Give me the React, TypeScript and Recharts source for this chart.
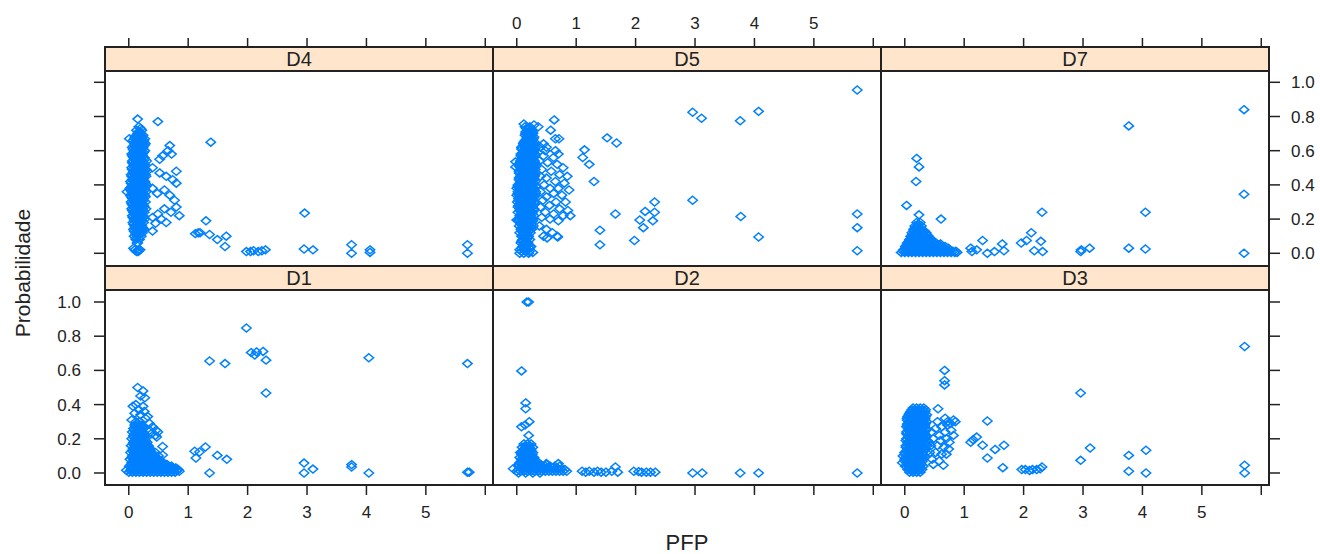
import React from 'react';
import { ScatterChart, Scatter, XAxis, YAxis } from 'recharts';

// Dense clusters are read row by row: [y, xs at that height]
type Row = [number, number[]];
type Pt = [number, number];

const xTicks = [0, 1, 2, 3, 4, 5, 6];
const yTicks = [0, 0.2, 0.4, 0.6, 0.8, 1.0];

const d4Core: Row[] = [
  [0.74, [0.17]], [0.72, [0.13, 0.22]], [0.70, [0.15, 0.2]], [0.68, [0.1, 0.16, 0.22]],
  [0.66, [0.07, 0.13, 0.19, 0.25]], [0.64, [0.1, 0.16, 0.22, 0.28]], [0.62, [0.06, 0.12, 0.18, 0.24]],
  [0.60, [0.09, 0.15, 0.21, 0.27]], [0.58, [0.05, 0.11, 0.17, 0.23]], [0.56, [0.08, 0.14, 0.2, 0.26]],
  [0.54, [0.06, 0.12, 0.18, 0.24, 0.3]], [0.52, [0.09, 0.15, 0.21, 0.27]], [0.50, [0.05, 0.11, 0.17, 0.23]],
  [0.48, [0.08, 0.14, 0.2, 0.26, 0.31]], [0.46, [0.04, 0.1, 0.16, 0.22, 0.28]], [0.44, [0.07, 0.13, 0.19, 0.25]],
  [0.42, [0.03, 0.09, 0.15, 0.21, 0.27]], [0.40, [0.06, 0.12, 0.18, 0.24, 0.3]], [0.38, [0.02, 0.08, 0.14, 0.2, 0.26]],
  [0.36, [0.05, 0.11, 0.17, 0.23, 0.29]], [0.34, [0.03, 0.09, 0.15, 0.21, 0.27]], [0.32, [0.06, 0.12, 0.18, 0.24]],
  [0.30, [0.04, 0.1, 0.16, 0.22, 0.28]], [0.28, [0.07, 0.13, 0.19, 0.25]], [0.26, [0.05, 0.11, 0.17, 0.23, 0.29]],
  [0.24, [0.08, 0.14, 0.2, 0.26]], [0.22, [0.06, 0.12, 0.18, 0.24]], [0.20, [0.09, 0.15, 0.21, 0.27]],
  [0.18, [0.07, 0.13, 0.19, 0.25]], [0.16, [0.1, 0.16, 0.22]], [0.14, [0.08, 0.14, 0.2, 0.26]],
  [0.12, [0.11, 0.17, 0.23]], [0.10, [0.09, 0.15, 0.21]], [0.08, [0.12, 0.18]], [0.06, [0.14]],
  [0.02, [0.1, 0.16, 0.19]], [0.01, [0.13]],
];
const d4Fill: Row[] = [
  [0.71, [0.16, 0.19]], [0.69, [0.13, 0.19, 0.24]], [0.67, [0.1, 0.16, 0.22]], [0.65, [0.1, 0.16, 0.22, 0.26]],
  [0.63, [0.09, 0.15, 0.21, 0.26]], [0.61, [0.07, 0.12, 0.18, 0.24]], [0.59, [0.08, 0.14, 0.2, 0.25]],
  [0.57, [0.06, 0.11, 0.17, 0.23]], [0.55, [0.09, 0.15, 0.21, 0.27]], [0.53, [0.06, 0.12, 0.18, 0.24]],
  [0.51, [0.08, 0.14, 0.2, 0.26]], [0.49, [0.06, 0.12, 0.18, 0.24, 0.29]], [0.47, [0.07, 0.13, 0.19, 0.25]],
  [0.45, [0.05, 0.11, 0.17, 0.23, 0.29]], [0.43, [0.06, 0.12, 0.18, 0.24]], [0.41, [0.04, 0.1, 0.16, 0.22, 0.28]],
  [0.39, [0.05, 0.11, 0.17, 0.23, 0.29]], [0.37, [0.03, 0.09, 0.15, 0.21, 0.27]], [0.35, [0.06, 0.12, 0.18, 0.24]],
  [0.33, [0.04, 0.1, 0.16, 0.22, 0.28]], [0.31, [0.07, 0.13, 0.19, 0.25]], [0.29, [0.05, 0.11, 0.17, 0.23]],
  [0.27, [0.08, 0.14, 0.2, 0.26]], [0.25, [0.06, 0.12, 0.18, 0.24]], [0.23, [0.09, 0.15, 0.21]],
  [0.21, [0.07, 0.13, 0.19, 0.25]], [0.19, [0.1, 0.16, 0.22]], [0.17, [0.08, 0.14, 0.2]],
  [0.15, [0.11, 0.17, 0.23]], [0.13, [0.09, 0.15, 0.2]], [0.11, [0.12, 0.18]],
];
const d4Loose: Pt[] = [
  [0.15, 0.785], [0.49, 0.77], [0.2, 0.73], [0.18, 0.71], [0.01, 0.67], [0.27, 0.67], [-0.03, 0.36],
  [0.69, 0.63], [0.66, 0.6], [0.57, 0.57], [0.52, 0.55], [0.72, 0.58], [0.8, 0.48], [0.4, 0.5],
  [0.52, 0.47], [0.63, 0.45], [0.74, 0.43], [0.8, 0.41], [0.4, 0.38], [0.48, 0.35], [0.6, 0.37],
  [0.69, 0.34], [0.77, 0.31], [0.8, 0.27], [0.71, 0.24], [0.6, 0.26], [0.49, 0.23], [0.4, 0.21],
  [0.85, 0.22], [0.63, 0.18], [0.55, 0.2], [0.45, 0.175], [0.4, 0.13], [0.23, 0.14], [0.18, 0.11],
  [0.12, 0.09], [0.15, 0.06], [0.08, 0.03], [0.16, 0.01],
  [1.38, 0.65], [1.3, 0.19], [1.12, 0.115], [1.17, 0.12], [1.2, 0.12], [1.36, 0.11], [1.49, 0.08],
  [1.64, 0.1], [1.62, 0.04], [1.98, 0.01], [2.05, 0.01], [2.1, 0.015], [2.18, 0.01], [2.24, 0.015],
  [2.3, 0.02], [2.96, 0.235], [2.95, 0.025], [3.1, 0.02], [3.75, 0.05], [3.75, 0.0], [4.06, 0.02],
  [4.06, 0.005], [5.7, 0.05], [5.7, 0.0],
];

const d5Core: Row[] = [
  [0.74, [0.14, 0.22]], [0.72, [0.18, 0.25]], [0.70, [0.15, 0.21, 0.27]], [0.68, [0.17, 0.23, 0.29]],
  [0.66, [0.14, 0.2, 0.26]], [0.64, [0.11, 0.17, 0.23, 0.29]], [0.62, [0.08, 0.14, 0.2, 0.26, 0.32]],
  [0.60, [0.11, 0.17, 0.23, 0.29]], [0.58, [0.07, 0.13, 0.19, 0.25, 0.31]], [0.56, [0.1, 0.16, 0.22, 0.28]],
  [0.54, [0.06, 0.12, 0.18, 0.24, 0.3]], [0.52, [0.03, 0.09, 0.15, 0.21, 0.27, 0.33]],
  [0.50, [0.06, 0.12, 0.18, 0.24, 0.3]], [0.48, [0.04, 0.1, 0.16, 0.22, 0.28]],
  [0.46, [0.07, 0.13, 0.19, 0.25, 0.31]], [0.44, [0.04, 0.1, 0.16, 0.22, 0.28]],
  [0.42, [0.07, 0.13, 0.19, 0.25, 0.31]], [0.40, [0.02, 0.08, 0.14, 0.2, 0.26]],
  [0.38, [0.0, 0.05, 0.11, 0.17, 0.23, 0.29]], [0.36, [0.02, 0.08, 0.14, 0.2, 0.26, 0.32]],
  [0.34, [0.0, 0.05, 0.11, 0.17, 0.23, 0.29]], [0.32, [0.03, 0.09, 0.15, 0.21, 0.27]],
  [0.30, [0.01, 0.06, 0.12, 0.18, 0.24, 0.3]], [0.28, [0.03, 0.09, 0.15, 0.21, 0.27]],
  [0.26, [0.05, 0.11, 0.17, 0.23, 0.29]], [0.24, [0.02, 0.08, 0.14, 0.2, 0.26]],
  [0.22, [0.05, 0.11, 0.17, 0.23, 0.29]], [0.20, [0.03, 0.09, 0.15, 0.21, 0.27]],
  [0.18, [0.06, 0.12, 0.18, 0.24]], [0.16, [0.04, 0.1, 0.16, 0.22, 0.28]], [0.14, [0.07, 0.13, 0.19, 0.25]],
  [0.12, [0.05, 0.11, 0.17, 0.23]], [0.10, [0.08, 0.14, 0.2]], [0.08, [0.1, 0.16, 0.22]],
  [0.06, [0.07, 0.13, 0.19]], [0.04, [0.1, 0.16, 0.24]], [0.02, [0.05, 0.12, 0.18]], [0.01, [0.08, 0.15, 0.21]],
];
const d5Fill: Row[] = [
  [0.73, [0.16, 0.22]], [0.71, [0.15, 0.21, 0.27]], [0.69, [0.14, 0.2, 0.26]], [0.67, [0.17, 0.23, 0.28]],
  [0.65, [0.12, 0.18, 0.24, 0.3]], [0.63, [0.11, 0.17, 0.23, 0.29]], [0.61, [0.08, 0.14, 0.2, 0.26, 0.31]],
  [0.59, [0.1, 0.16, 0.22, 0.28]], [0.57, [0.07, 0.13, 0.19, 0.25, 0.31]], [0.55, [0.09, 0.15, 0.21, 0.27]],
  [0.53, [0.06, 0.12, 0.18, 0.24, 0.3]], [0.51, [0.04, 0.1, 0.16, 0.22, 0.28]],
  [0.49, [0.07, 0.13, 0.19, 0.25, 0.31]], [0.47, [0.04, 0.1, 0.16, 0.22, 0.28]],
  [0.45, [0.06, 0.12, 0.18, 0.24, 0.3]], [0.43, [0.04, 0.1, 0.16, 0.22, 0.28]],
  [0.41, [0.05, 0.11, 0.17, 0.23, 0.29]], [0.39, [0.02, 0.08, 0.14, 0.2, 0.26, 0.32]],
  [0.37, [0.05, 0.11, 0.17, 0.23, 0.29]], [0.35, [0.02, 0.08, 0.14, 0.2, 0.26, 0.32]],
  [0.33, [0.06, 0.12, 0.18, 0.24, 0.3]], [0.31, [0.03, 0.09, 0.15, 0.21, 0.27]],
  [0.29, [0.06, 0.12, 0.18, 0.24, 0.3]], [0.27, [0.02, 0.08, 0.14, 0.2, 0.26]],
  [0.25, [0.05, 0.11, 0.17, 0.23, 0.29]], [0.23, [0.08, 0.14, 0.2, 0.26]], [0.21, [0.06, 0.12, 0.18, 0.24]],
  [0.19, [0.03, 0.09, 0.15, 0.21, 0.27]], [0.17, [0.07, 0.13, 0.19, 0.25]], [0.15, [0.1, 0.16, 0.22]],
  [0.13, [0.08, 0.14, 0.2]], [0.11, [0.11, 0.17]], [0.09, [0.13, 0.19]], [0.07, [0.1, 0.16]],
  [0.05, [0.13, 0.19]], [0.03, [0.08, 0.15, 0.21]],
];
const d5Loose: Pt[] = [
  [0.12, 0.756], [0.29, 0.75], [0.36, 0.74], [0.63, 0.78], [0.57, 0.72], [0.65, 0.67], [0.71, 0.67],
  [0.45, 0.64], [0.5, 0.62], [0.65, 0.6], [0.7, 0.58], [-0.02, 0.535], [-0.02, 0.505], [0.0, 0.195],
  [0.4, 0.62], [0.48, 0.6], [0.45, 0.57], [0.62, 0.56], [0.38, 0.54], [0.52, 0.53], [0.68, 0.52],
  [0.78, 0.5], [0.42, 0.49], [0.58, 0.48], [0.72, 0.46], [0.85, 0.45], [0.4, 0.45], [0.5, 0.44],
  [0.65, 0.42], [0.8, 0.41], [0.46, 0.4], [0.56, 0.38], [0.7, 0.38], [0.88, 0.37], [0.4, 0.36],
  [0.62, 0.35], [0.76, 0.34], [0.5, 0.33], [0.44, 0.31], [0.66, 0.3], [0.82, 0.3], [0.55, 0.28],
  [0.4, 0.27], [0.72, 0.26], [0.86, 0.25], [0.48, 0.24], [0.62, 0.23], [0.78, 0.22], [0.42, 0.21],
  [0.56, 0.2], [0.7, 0.19], [0.9, 0.22], [0.38, 0.16], [0.5, 0.14], [0.6, 0.12], [0.45, 0.1],
  [0.51, 0.09], [0.68, 0.1], [0.69, 0.095], [0.08, 0.07], [0.22, 0.04], [0.05, 0.0], [0.12, 0.0],
  [0.2, 0.0], [0.27, 0.005],
  [5.73, 0.955], [2.96, 0.825], [3.11, 0.79], [3.76, 0.775], [4.07, 0.83], [1.52, 0.675], [1.68, 0.645],
  [1.14, 0.605], [1.11, 0.56], [1.22, 0.52], [1.3, 0.42], [2.96, 0.31], [2.32, 0.3], [2.16, 0.245],
  [2.32, 0.24], [1.66, 0.23], [2.07, 0.195], [2.29, 0.19], [2.13, 0.15], [1.4, 0.135], [1.4, 0.05],
  [1.98, 0.075], [3.77, 0.215], [4.07, 0.095], [5.73, 0.23], [5.73, 0.15], [5.73, 0.015],
];

const d7Core: Row[] = [
  [0.18, [0.2, 0.26]], [0.16, [0.17, 0.23, 0.28]], [0.14, [0.15, 0.21, 0.27]],
  [0.12, [0.12, 0.18, 0.24, 0.3, 0.36]], [0.10, [0.1, 0.16, 0.22, 0.28, 0.34, 0.4]],
  [0.08, [0.08, 0.14, 0.2, 0.26, 0.32, 0.38, 0.44]],
  [0.06, [0.04, 0.1, 0.16, 0.22, 0.28, 0.34, 0.4, 0.46, 0.52]],
  [0.04, [0.01, 0.07, 0.13, 0.19, 0.25, 0.31, 0.37, 0.43, 0.49, 0.55, 0.62, 0.68]],
  [0.02, [-0.02, 0.04, 0.1, 0.16, 0.22, 0.28, 0.34, 0.4, 0.46, 0.52, 0.58, 0.64, 0.7, 0.76]],
  [0.005, [-0.06, 0.0, 0.06, 0.12, 0.18, 0.24, 0.3, 0.36, 0.42, 0.48, 0.54, 0.6, 0.66, 0.72, 0.78, 0.84, 0.88]],
];
const d7Fill: Row[] = [
  [0.17, [0.23]], [0.15, [0.18, 0.24]], [0.13, [0.15, 0.21, 0.27, 0.33]],
  [0.11, [0.13, 0.19, 0.25, 0.31, 0.37]], [0.09, [0.11, 0.17, 0.23, 0.29, 0.35, 0.41]],
  [0.07, [0.07, 0.13, 0.19, 0.25, 0.31, 0.37, 0.43, 0.49]],
  [0.05, [0.04, 0.1, 0.16, 0.22, 0.28, 0.34, 0.4, 0.46, 0.52, 0.58]],
  [0.03, [0.01, 0.07, 0.13, 0.19, 0.25, 0.31, 0.37, 0.43, 0.49, 0.55, 0.61, 0.67, 0.73]],
  [0.012, [-0.03, 0.03, 0.09, 0.15, 0.21, 0.27, 0.33, 0.39, 0.45, 0.51, 0.57, 0.63, 0.69, 0.75, 0.81, 0.86]],
];
const d7Loose: Pt[] = [
  [0.2, 0.555], [0.24, 0.505], [0.19, 0.42], [0.03, 0.28], [0.24, 0.225], [0.61, 0.2], [0.6, 0.055],
  [5.71, 0.84], [3.77, 0.745], [5.71, 0.345], [5.71, 0.0], [4.05, 0.24], [2.31, 0.24], [3.77, 0.03],
  [4.05, 0.025], [2.96, 0.01], [2.97, 0.02], [3.11, 0.03], [2.13, 0.12], [2.05, 0.075], [1.96, 0.06],
  [2.29, 0.07], [2.18, 0.015], [2.32, 0.01], [1.31, 0.075], [1.11, 0.03], [1.21, 0.02], [1.13, 0.01],
  [1.39, 0.0], [1.51, 0.01], [1.64, 0.055], [1.67, 0.015],
];

const d1Core: Row[] = [
  [0.30, [0.12, 0.18]], [0.28, [0.1, 0.16, 0.22]], [0.26, [0.08, 0.14, 0.2, 0.25]],
  [0.24, [0.06, 0.12, 0.18, 0.24]], [0.22, [0.08, 0.14, 0.2, 0.26]], [0.20, [0.05, 0.11, 0.17, 0.23, 0.28]],
  [0.18, [0.08, 0.14, 0.2, 0.26, 0.31]], [0.16, [0.04, 0.1, 0.16, 0.22, 0.28, 0.33]],
  [0.14, [0.07, 0.13, 0.19, 0.25, 0.31, 0.36]], [0.12, [0.03, 0.09, 0.15, 0.21, 0.27, 0.33, 0.39]],
  [0.10, [0.06, 0.12, 0.18, 0.24, 0.3, 0.36, 0.42]],
  [0.08, [0.02, 0.08, 0.14, 0.2, 0.26, 0.32, 0.38, 0.44, 0.5]],
  [0.06, [0.05, 0.11, 0.17, 0.23, 0.29, 0.35, 0.41, 0.47, 0.53, 0.58]],
  [0.04, [0.01, 0.07, 0.13, 0.19, 0.25, 0.31, 0.37, 0.43, 0.49, 0.55, 0.61, 0.67, 0.72]],
  [0.02, [0.04, 0.1, 0.16, 0.22, 0.28, 0.34, 0.4, 0.46, 0.52, 0.58, 0.64, 0.7, 0.76, 0.82]],
  [0.005, [0.0, 0.06, 0.12, 0.18, 0.24, 0.3, 0.36, 0.42, 0.48, 0.54, 0.6, 0.66, 0.72, 0.78]],
];
const d1Fill: Row[] = [
  [0.29, [0.15]], [0.27, [0.11, 0.17, 0.23]], [0.25, [0.09, 0.15, 0.21]], [0.23, [0.1, 0.16, 0.22]],
  [0.21, [0.08, 0.14, 0.2, 0.25]], [0.19, [0.1, 0.16, 0.22, 0.28]], [0.17, [0.07, 0.13, 0.19, 0.25, 0.3]],
  [0.15, [0.1, 0.16, 0.22, 0.28, 0.34]], [0.13, [0.06, 0.12, 0.18, 0.24, 0.3, 0.36]],
  [0.11, [0.09, 0.15, 0.21, 0.27, 0.33, 0.39]], [0.09, [0.05, 0.11, 0.17, 0.23, 0.29, 0.35, 0.41, 0.47]],
  [0.07, [0.08, 0.14, 0.2, 0.26, 0.32, 0.38, 0.44, 0.5, 0.55]],
  [0.05, [0.04, 0.1, 0.16, 0.22, 0.28, 0.34, 0.4, 0.46, 0.52, 0.58, 0.64]],
  [0.03, [0.07, 0.13, 0.19, 0.25, 0.31, 0.37, 0.43, 0.49, 0.55, 0.61, 0.67, 0.73, 0.79]],
  [0.013, [0.03, 0.09, 0.15, 0.21, 0.27, 0.33, 0.39, 0.45, 0.51, 0.57, 0.63, 0.69, 0.75, 0.81]],
];
const d1Loose: Pt[] = [
  [0.15, 0.5], [0.24, 0.48], [0.27, 0.44], [0.2, 0.45], [0.07, 0.39], [0.12, 0.4], [0.17, 0.37],
  [0.24, 0.39], [0.26, 0.36], [0.1, 0.35], [0.2, 0.34], [0.28, 0.32], [0.32, 0.33], [0.05, 0.31],
  [0.35, 0.29], [0.46, 0.25], [0.49, 0.24], [0.45, 0.22], [0.47, 0.21], [0.4, 0.27], [0.38, 0.23],
  [0.35, 0.25], [0.57, 0.155], [0.57, 0.105], [0.45, 0.12], [0.5, 0.1], [-0.04, 0.016], [0.85, 0.01],
  [0.83, 0.02],
  [1.98, 0.848], [2.06, 0.704], [2.15, 0.708], [2.26, 0.711], [2.12, 0.69], [2.31, 0.66], [2.31, 0.468],
  [1.36, 0.655], [1.62, 0.64], [4.04, 0.674], [5.7, 0.64], [1.11, 0.127], [1.19, 0.123], [1.29, 0.152],
  [1.13, 0.088], [1.49, 0.103], [1.65, 0.08], [1.36, 0.0], [2.95, 0.058], [2.95, 0.0], [3.1, 0.023],
  [3.75, 0.049], [3.75, 0.035], [4.04, 0.0], [5.7, 0.005], [5.73, 0.005],
];

const d2Core: Row[] = [
  [0.17, [0.12, 0.18, 0.24]], [0.15, [0.09, 0.15, 0.21, 0.27]], [0.13, [0.12, 0.18, 0.24]],
  [0.11, [0.08, 0.14, 0.2, 0.26]], [0.09, [0.05, 0.11, 0.17, 0.23, 0.29]],
  [0.07, [0.08, 0.14, 0.2, 0.26, 0.32]], [0.05, [0.03, 0.09, 0.15, 0.21, 0.27, 0.33, 0.4, 0.5]],
  [0.03, [0.06, 0.12, 0.18, 0.24, 0.3, 0.36, 0.44, 0.52, 0.6, 0.68]],
  [0.01, [0.0, 0.06, 0.12, 0.18, 0.24, 0.3, 0.36, 0.42, 0.48, 0.54, 0.6, 0.66, 0.72, 0.78, 0.84]],
  [0.0, [0.03, 0.15, 0.27, 0.39]],
];
const d2Fill: Row[] = [
  [0.16, [0.15, 0.21]], [0.14, [0.12, 0.18, 0.24]], [0.12, [0.09, 0.15, 0.21, 0.27]],
  [0.10, [0.11, 0.17, 0.23]], [0.08, [0.08, 0.14, 0.2, 0.26, 0.3]], [0.06, [0.05, 0.11, 0.17, 0.23, 0.29, 0.36]],
  [0.04, [0.03, 0.09, 0.15, 0.21, 0.27, 0.33, 0.4, 0.48, 0.56, 0.64]],
  [0.02, [0.03, 0.09, 0.15, 0.21, 0.27, 0.33, 0.39, 0.45, 0.51, 0.57, 0.63, 0.69, 0.75, 0.81]],
];
const d2Loose: Pt[] = [
  [0.17, 1.0], [0.2, 1.0], [0.08, 0.597], [0.15, 0.41], [0.15, 0.376], [0.08, 0.27], [0.14, 0.28],
  [0.21, 0.3], [0.2, 0.22], [0.06, 0.12], [0.5, 0.055], [0.7, 0.055], [0.72, 0.04], [-0.06, 0.025],
  [1.1, 0.01], [1.16, 0.005], [1.22, 0.01], [1.3, 0.005], [1.36, 0.01], [1.42, 0.005], [1.5, 0.005],
  [1.6, 0.01], [1.66, 0.035], [1.7, 0.005], [1.97, 0.01], [2.05, 0.008], [2.1, 0.005], [2.18, 0.005],
  [2.25, 0.005], [2.33, 0.005], [2.96, 0.0], [3.12, 0.0], [3.76, 0.0], [4.07, 0.0], [5.73, 0.0],
];

const d3Core: Row[] = [
  [0.38, [0.14, 0.2, 0.26, 0.32]], [0.36, [0.1, 0.16, 0.22, 0.28, 0.34]],
  [0.34, [0.07, 0.13, 0.19, 0.25, 0.31, 0.37]], [0.32, [0.04, 0.1, 0.16, 0.22, 0.28, 0.34]],
  [0.30, [0.07, 0.13, 0.19, 0.25, 0.31, 0.37]], [0.28, [0.04, 0.1, 0.16, 0.22, 0.28, 0.34]],
  [0.26, [0.06, 0.12, 0.18, 0.24, 0.3, 0.36]], [0.24, [0.03, 0.09, 0.15, 0.21, 0.27, 0.33]],
  [0.22, [0.06, 0.12, 0.18, 0.24, 0.3, 0.36]], [0.20, [0.03, 0.09, 0.15, 0.21, 0.27, 0.33]],
  [0.18, [0.05, 0.11, 0.17, 0.23, 0.29, 0.35, 0.41]], [0.16, [0.02, 0.08, 0.14, 0.2, 0.26, 0.32, 0.38]],
  [0.14, [0.05, 0.11, 0.17, 0.23, 0.29, 0.35]], [0.12, [0.0, 0.06, 0.12, 0.18, 0.24, 0.3, 0.36]],
  [0.10, [-0.03, 0.03, 0.09, 0.15, 0.21, 0.27, 0.33]], [0.08, [0.0, 0.06, 0.12, 0.18, 0.24, 0.3]],
  [0.06, [-0.04, 0.03, 0.09, 0.15, 0.21, 0.27]], [0.04, [0.01, 0.07, 0.13, 0.19, 0.25, 0.31]],
  [0.02, [0.05, 0.11, 0.17, 0.23, 0.29]], [0.005, [0.08, 0.14, 0.2, 0.26]],
];
const d3Fill: Row[] = [
  [0.37, [0.12, 0.18, 0.24, 0.3, 0.35]], [0.35, [0.08, 0.14, 0.2, 0.26, 0.32]],
  [0.33, [0.05, 0.11, 0.17, 0.23, 0.29, 0.35]], [0.31, [0.04, 0.1, 0.16, 0.22, 0.28, 0.34]],
  [0.29, [0.05, 0.11, 0.17, 0.23, 0.29, 0.35]], [0.27, [0.03, 0.09, 0.15, 0.21, 0.27, 0.33]],
  [0.25, [0.06, 0.12, 0.18, 0.24, 0.3, 0.36]], [0.23, [0.03, 0.09, 0.15, 0.21, 0.27, 0.33]],
  [0.21, [0.06, 0.12, 0.18, 0.24, 0.3, 0.36]], [0.19, [0.02, 0.08, 0.14, 0.2, 0.26, 0.32, 0.38]],
  [0.17, [0.05, 0.11, 0.17, 0.23, 0.29, 0.35]], [0.15, [0.02, 0.08, 0.14, 0.2, 0.26, 0.32]],
  [0.13, [0.03, 0.09, 0.15, 0.21, 0.27, 0.33]], [0.11, [0.0, 0.06, 0.12, 0.18, 0.24, 0.3]],
  [0.09, [0.03, 0.09, 0.15, 0.21, 0.27]], [0.07, [0.0, 0.06, 0.12, 0.18, 0.24, 0.3]],
  [0.05, [0.04, 0.1, 0.16, 0.22, 0.28]], [0.03, [0.08, 0.14, 0.2, 0.26]], [0.015, [0.11, 0.17, 0.23]],
];
const d3Loose: Pt[] = [
  [0.55, 0.3], [0.82, 0.31], [0.77, 0.29], [0.85, 0.3], [0.52, 0.26], [0.62, 0.27], [0.72, 0.28],
  [0.45, 0.24], [0.58, 0.22], [0.68, 0.24], [0.78, 0.25], [0.82, 0.22], [0.48, 0.2], [0.6, 0.19],
  [0.7, 0.2], [0.75, 0.18], [0.44, 0.16], [0.55, 0.16], [0.66, 0.15], [0.74, 0.14], [0.42, 0.12],
  [0.52, 0.12], [0.62, 0.11], [0.7, 0.11], [0.46, 0.08], [0.58, 0.07], [0.65, 0.045], [0.48, 0.05],
  [0.72, 0.3], [0.68, 0.32], [0.67, 0.6], [0.67, 0.54], [0.67, 0.515], [0.56, 0.376],
  [5.72, 0.74], [5.72, 0.045], [5.72, 0.0], [2.96, 0.468], [3.12, 0.146], [2.96, 0.074], [3.77, 0.103],
  [3.77, 0.01], [4.06, 0.133], [4.06, 0.0], [1.39, 0.304], [1.11, 0.18], [1.21, 0.21], [1.15, 0.195],
  [1.31, 0.162], [1.52, 0.138], [1.67, 0.162], [1.39, 0.088], [1.65, 0.031], [1.97, 0.02], [2.03, 0.02],
  [2.1, 0.015], [2.15, 0.02], [2.22, 0.02], [2.28, 0.025], [2.31, 0.035],
];

const toPoints = (core: Row[], fill: Row[], loose: Pt[]) => [
  ...[...core, ...fill].flatMap(([y, xs]) => xs.map((x) => ({ x, y }))),
  ...loose.map(([x, y]) => ({ x, y })),
];

const panels = [
  { name: 'D4', row: 0, col: 0, data: toPoints(d4Core, d4Fill, d4Loose) },
  { name: 'D5', row: 0, col: 1, data: toPoints(d5Core, d5Fill, d5Loose) },
  { name: 'D7', row: 0, col: 2, data: toPoints(d7Core, d7Fill, d7Loose) },
  { name: 'D1', row: 1, col: 0, data: toPoints(d1Core, d1Fill, d1Loose) },
  { name: 'D2', row: 1, col: 1, data: toPoints(d2Core, d2Fill, d2Loose) },
  { name: 'D3', row: 1, col: 2, data: toPoints(d3Core, d3Fill, d3Loose) },
];

const COL_LEFT = [105, 493, 881];
const ROW_TOP = [47, 266];
const PANEL_W = 388;
const PANEL_H = 219; // strip + plot
const STRIP_H = 23;
const PAD_X = 60;
const PAD_Y = 50;
const Y_DOMAIN = [[-0.0743, 1.2064], [-0.0702, 1.2105]];
const X_DOMAIN = [-0.4, 6.13];
const FONT = '"Liberation Sans", Arial, sans-serif';
const BLUE = '#0080ff';
const INK = '#222';

const Diamond = (props: any) => {
  const { cx, cy } = props;
  if (cx == null || cy == null) return null;
  const rx = 4.7;
  const ry = 4.0;
  return (
    <path
      d={`M${cx},${cy - ry}L${cx + rx},${cy}L${cx},${cy + ry}L${cx - rx},${cy}Z`}
      fill="none"
      stroke={BLUE}
      strokeWidth={1.5}
    />
  );
};

const tickStyle = { fontSize: 17, fill: INK, fontFamily: FONT };
const xLabel = (v: number) => (v === 6 ? '' : String(v));
const yLabel = (v: number) => v.toFixed(1);
const blank = () => '';

const Panel = ({ name, row, col, data }: (typeof panels)[number]) => {
  const showLeft = col === 0;
  const showRight = col === 2;
  const showTop = row === 0;
  const showBottom = row === 1;
  return (
    <div style={{ position: 'absolute', left: COL_LEFT[col] - PAD_X, top: ROW_TOP[row] - PAD_Y }}>
      <ScatterChart
        width={PANEL_W + 2 * PAD_X}
        height={PANEL_H + 2 * PAD_Y}
        margin={{ top: 0, right: 0, bottom: 0, left: 0 }}
      >
        <XAxis
          xAxisId="b"
          dataKey="x"
          type="number"
          orientation="bottom"
          domain={X_DOMAIN}
          allowDataOverflow
          ticks={xTicks}
          interval={0}
          height={PAD_Y}
          axisLine={false}
          tick={showBottom ? tickStyle : false}
          tickLine={showBottom ? { stroke: INK, strokeWidth: 1.5 } : false}
          tickSize={10}
          tickMargin={11}
          tickFormatter={col === 1 ? blank : xLabel}
        />
        <XAxis
          xAxisId="t"
          dataKey="x"
          type="number"
          orientation="top"
          domain={X_DOMAIN}
          allowDataOverflow
          ticks={xTicks}
          interval={0}
          height={PAD_Y}
          axisLine={false}
          tick={showTop ? tickStyle : false}
          tickLine={showTop ? { stroke: INK, strokeWidth: 1.5 } : false}
          tickSize={9}
          tickMargin={9}
          tickFormatter={col === 1 ? xLabel : blank}
        />
        <YAxis
          yAxisId="l"
          dataKey="y"
          type="number"
          orientation="left"
          domain={Y_DOMAIN[row]}
          allowDataOverflow
          ticks={yTicks}
          interval={0}
          width={PAD_X}
          axisLine={false}
          tick={showLeft ? tickStyle : false}
          tickLine={showLeft ? { stroke: INK, strokeWidth: 1.5 } : false}
          tickSize={11}
          tickMargin={13}
          tickFormatter={row === 1 ? yLabel : blank}
        />
        <YAxis
          yAxisId="r"
          dataKey="y"
          type="number"
          orientation="right"
          domain={Y_DOMAIN[row]}
          allowDataOverflow
          ticks={yTicks}
          interval={0}
          width={PAD_X}
          axisLine={false}
          tick={showRight ? tickStyle : false}
          tickLine={showRight ? { stroke: INK, strokeWidth: 1.5 } : false}
          tickSize={11}
          tickMargin={11}
          tickFormatter={row === 0 ? yLabel : blank}
        />
        <Scatter
          name={name}
          data={data}
          xAxisId="b"
          yAxisId="l"
          shape={Diamond}
          isAnimationActive={false}
        />
      </ScatterChart>
    </div>
  );
};

const Frame = ({ name, row, col }: (typeof panels)[number]) => (
  <div
    style={{
      position: 'absolute',
      left: COL_LEFT[col] - 1,
      top: ROW_TOP[row] - 1,
      width: PANEL_W + 2,
      height: PANEL_H + 2,
      border: `2px solid ${INK}`,
      boxSizing: 'border-box',
    }}
  >
    <div
      style={{
        height: STRIP_H - 1,
        background: '#ffe5cc',
        borderBottom: `2px solid ${INK}`,
        textAlign: 'center',
        lineHeight: `${STRIP_H - 1}px`,
        fontSize: 20,
        fontFamily: FONT,
        color: INK,
      }}
    >
      {name}
    </div>
  </div>
);

export default function App() {
  return (
    <div
      style={{
        position: 'absolute',
        left: 0,
        top: 0,
        width: 1320,
        height: 554,
        background: '#fff',
        overflow: 'hidden',
        fontFamily: FONT,
      }}
    >
      {panels.map((p) => (
        <Frame key={`f-${p.name}`} {...p} />
      ))}
      {panels.map((p) => (
        <Panel key={p.name} {...p} />
      ))}
      <div
        style={{
          position: 'absolute',
          left: 23,
          top: 273,
          transform: 'translate(-50%, -50%) rotate(-90deg)',
          fontSize: 21,
          lineHeight: '22px',
          color: INK,
          whiteSpace: 'nowrap',
        }}
      >
        Probabilidade
      </div>
      <div
        style={{
          position: 'absolute',
          left: 687,
          top: 533,
          transform: 'translateX(-50%)',
          fontSize: 22,
          lineHeight: '20px',
          color: INK,
        }}
      >
        PFP
      </div>
    </div>
  );
}
